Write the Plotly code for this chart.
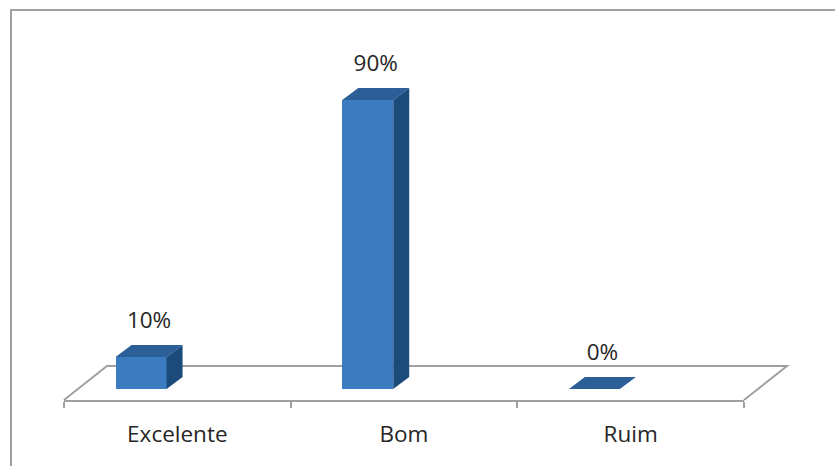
import plotly.graph_objects as go

categories = ["Excelente", "Bom", "Ruim"]
values = [10, 90, 0]
labels = ["10%", "90%", "0%"]

# layout geometry (pixels)
W, H = 835, 466
L, R, T, B = 64, 835 - 744, 9, 466 - 400
plot_w = W - L - R
plot_h = H - T - B
y_min, y_max = -3.43, 118.38
px_per_x = plot_w / 3.0
px_per_y = plot_h / (y_max - y_min)

bar_w = 0.225
bar_off = -0.16 - bar_w / 2
dx = 16 / px_per_x
dy = 12 / px_per_y

front_c = "#3b7cc1"
top_c = "#2c5e98"
side_c = "#1b4b7b"
gray = "#a0a0a0"
font = "Open Sans"
fsize = 22.5

fig = go.Figure()
fig.add_trace(go.Bar(x=categories, y=values, width=bar_w, offset=bar_off,
                     marker=dict(color=front_c, line=dict(width=0)),
                     hoverinfo="skip", showlegend=False))

shapes = []
# floor (depth plane) in paper coords
fdx = 43 / plot_w
fdy = 34 / plot_h
shapes.append(dict(type="path", xref="paper", yref="paper", layer="below",
                   path=f"M 0,0 L {fdx},{fdy} L {1+fdx},{fdy} L 1,0",
                   line=dict(color=gray, width=2)))
# outer border
shapes.append(dict(type="path", xref="paper", yref="paper", layer="below",
                   path=f"M {(11-L)/plot_w},-1 L {(11-L)/plot_w},{(plot_h-1)/plot_h} L 2,{(plot_h-1)/plot_h}",
                   line=dict(color=gray, width=2)))

lx, ly = [], []
for i, v in enumerate(values):
    xl = i + bar_off
    xr = xl + bar_w
    shapes.append(dict(type="path", xref="x", yref="y", layer="above",
                       path=f"M {xl},{v} L {xr},{v} L {xr+dx},{v+dy} L {xl+dx},{v+dy} Z",
                       fillcolor=top_c, line=dict(width=0)))
    if v > 0:
        shapes.append(dict(type="path", xref="x", yref="y", layer="above",
                           path=f"M {xr},0 L {xr},{v} L {xr+dx},{v+dy} L {xr+dx},{dy} Z",
                           fillcolor=side_c, line=dict(width=0)))
    lx.append(i + bar_off + bar_w / 2 + dx / 2)
    ly.append(v + dy + 23 / px_per_y)

fig.add_trace(go.Scatter(x=lx, y=ly, mode="text", text=labels,
                         textposition="middle center",
                         textfont=dict(family=font, size=fsize, color="#262626"),
                         hoverinfo="skip", showlegend=False, xaxis="x2"))

fig.update_layout(
    width=W, height=H, margin=dict(l=L, r=R, t=T, b=B),
    paper_bgcolor="white", plot_bgcolor="white",
    shapes=shapes, bargap=0,
    xaxis=dict(type="category", range=[-0.5, 2.5], tickson="boundaries",
               ticks="outside", ticklen=6, tickwidth=2, tickcolor=gray,
               showline=True, linecolor=gray, linewidth=2, showgrid=False,
               zeroline=False, tickfont=dict(family=font, size=fsize, color="#262626"),
               ticklabelstandoff=13, fixedrange=True),
    xaxis2=dict(overlaying="x", range=[-0.5, 2.5], visible=False, fixedrange=True),
    yaxis=dict(range=[y_min, y_max], visible=False, fixedrange=True),
)

fig.write_html("out.html")
